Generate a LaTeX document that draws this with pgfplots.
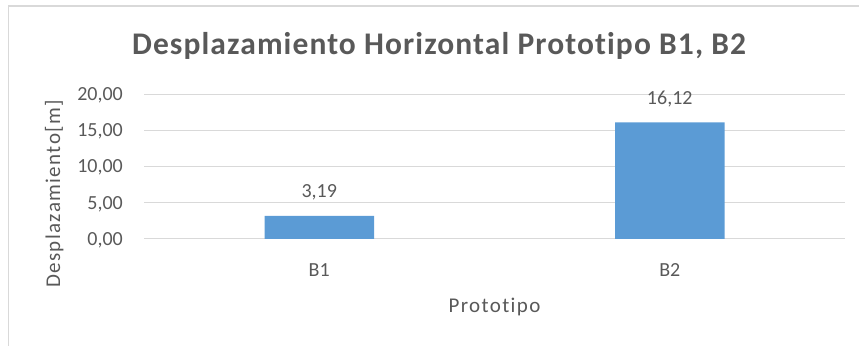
\documentclass[border=0pt]{standalone}
\usepackage{fontspec}
\setmainfont[Ligatures=NoCommon]{Carlito}
\newfontfamily\lblfont[LetterSpace=6.5,Ligatures=NoCommon]{Carlito}
\newfontfamily\ttlfont[LetterSpace=3.5,Ligatures=NoCommon]{Carlito}
\usepackage{pgfplots}
\pgfplotsset{compat=1.18}
\definecolor{barblue}{HTML}{5B9BD5}
\definecolor{txtgray}{HTML}{595959}
\definecolor{gridgray}{HTML}{D9D9D9}
\begin{document}
\begin{tikzpicture}
\useasboundingbox (0,0) rectangle (859bp,346bp);
\draw[gridgray, line width=1.2bp] (8.5bp,0bp) -- (8.5bp,340bp) -- (859bp,340bp);
\node[anchor=base, text=txtgray, font=\ttlfont\fontsize{31.5bp}{36bp}\selectfont\bfseries] at (439bp,291bp) {Desplazamiento Horizontal Prototipo B1, B2};
\begin{axis}[
  at={(144bp,107bp)}, anchor=south west,
  scale only axis, width=701bp, height=144.7bp,
  xmin=-0.5, xmax=1.5, ymin=0, ymax=20,
  ytick={0,5,10,15,20},
  xtick=data, xticklabels={B1,B2},
  axis line style={draw=none},
  tick style={draw=none},
  ymajorgrids, major grid style={gridgray, line width=1bp},
  /pgf/number format/.cd, fixed, zerofill, precision=2, use comma, assume math mode=true,
  /pgfplots/.cd,
  ticklabel style={text=txtgray, font=\fontsize{20bp}{24bp}\selectfont, inner sep=0pt},
  yticklabel style={anchor=base east, xshift=-21bp, yshift=-6.3bp},
  xticklabel style={anchor=base, yshift=-33.5bp},
  ylabel={Desplazamiento[m]},
  ylabel style={at={(axis description cs:-0.128,0.311)}, anchor=center, text=txtgray, font=\lblfont\fontsize{21bp}{24bp}\selectfont, inner sep=0pt},
  xlabel={Prototipo},
  xlabel style={at={(axis description cs:0.5,0)}, anchor=base, yshift=-73bp, text=txtgray, font=\lblfont\fontsize{21bp}{24bp}\selectfont, inner sep=0pt},
  ybar, bar width=109.5bp,
  nodes near coords,
  nodes near coords style={anchor=base, yshift=18bp, text=txtgray, font=\fontsize{20bp}{24bp}\selectfont, inner sep=0pt},
]
\addplot[fill=barblue, draw=none] coordinates {(0,3.19) (1,16.12)};
\end{axis}
\end{tikzpicture}
\end{document}
